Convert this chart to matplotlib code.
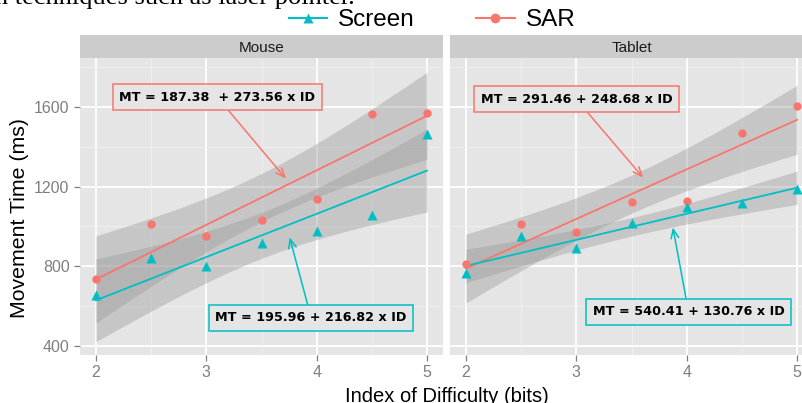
import numpy as np
import matplotlib
matplotlib.use('Agg')
import matplotlib.pyplot as plt
from matplotlib.lines import Line2D

# index of difficulty (bits)
ids = [2, 2.5, 3, 3.5, 4, 4.5, 5]

# movement times (ms)
mouse_screen = [655, 840, 800, 915, 975, 1055, 1465]
mouse_sar = [735, 1010, 950, 1030, 1140, 1565, 1570]
tablet_screen = [765, 950, 890, 1015, 1095, 1120, 1190]
tablet_sar = [810, 1010, 970, 1125, 1130, 1470, 1605]

# fitted models shown in the labels
screen_fit = [(195.96, 216.82), (540.41, 130.76)]
sar_fit = [(187.38, 273.56), (291.46, 248.68)]
screen_eq = ['MT = 195.96 + 216.82 x ID', 'MT = 540.41 + 130.76 x ID']
sar_eq = ['MT = 187.38  + 273.56 x ID', 'MT = 291.46 + 248.68 x ID']

panels = ['Mouse', 'Tablet']
yticks = [400, 800, 1200, 1600]
xticks = [2, 3, 4, 5]

SCREEN = '#00BFC4'
SAR = '#F8766D'
PANEL = '#E5E5E5'
STRIP = '#CCCCCC'

plt.rcParams['font.family'] = ['Liberation Sans', 'DejaVu Sans']


def band(x, y, fit):
	x = np.array(x, dtype=float)
	y = np.array(y, dtype=float)
	a, b = fit
	res = y - (a + b * x)
	s = np.sqrt((res ** 2).sum() / (len(x) - 2))
	sxx = ((x - x.mean()) ** 2).sum()
	xs = np.linspace(x.min(), x.max(), 60)
	se = s * np.sqrt(1.0 / len(x) + (xs - x.mean()) ** 2 / sxx)
	yhat = a + b * xs
	t = 2.571  # t(0.975, df=5)
	return xs, yhat - t * se, yhat + t * se


def draw_panel(ax, sax, name, screen, sar, k, first):
	ax.set_facecolor(PANEL)
	ax.set_xlim(1.855, 5.145)
	ax.set_ylim(355, 1845)
	ax.set_xticks([2.5, 3.5, 4.5], minor=True)
	ax.set_yticks([600, 1000, 1400, 1800], minor=True)
	ax.set_xticks(xticks)
	ax.set_yticks(yticks)
	ax.grid(which='major', color='white', lw=1.3)
	ax.grid(which='minor', color='#F2F2F2', lw=0.6)
	ax.set_axisbelow(True)
	for sp in ax.spines.values():
		sp.set_visible(False)
	ax.tick_params(which='minor', length=0)
	ax.tick_params(which='major', colors='#7F7F7F', labelsize=11.5, length=4, width=0.9)
	if not first:
		ax.tick_params(axis='y', length=0, labelleft=False)

	for y, fit in [(sar, sar_fit[k]), (screen, screen_fit[k])]:
		xs, lo, hi = band(ids, y, fit)
		ax.fill_between(xs, lo, hi, color='#999999', alpha=0.4, lw=0, zorder=2)

	xl = np.array([ids[0], ids[-1]])
	ax.plot(xl, sar_fit[k][0] + sar_fit[k][1] * xl, color=SAR, lw=1.3, zorder=3)
	ax.plot(xl, screen_fit[k][0] + screen_fit[k][1] * xl, color=SCREEN, lw=1.3, zorder=3)
	ax.plot(ids, sar, 'o', color=SAR, ms=6, mec='none', zorder=4)
	ax.plot(ids, screen, '^', color=SCREEN, ms=6.5, mec='none', zorder=4)

	sax.set_facecolor(STRIP)
	sax.set_xticks([])
	sax.set_yticks([])
	for sp in sax.spines.values():
		sp.set_visible(False)
	sax.text(0.5, 0.45, name, ha='center', va='center', fontsize=11, color='#1A1A1A',
		transform=sax.transAxes)


def label(ax, text, xy, xytext, col):
	ax.annotate(text, xy=xy, xytext=xytext, ha='center', va='center',
		fontsize=9.2, fontweight='bold', family='DejaVu Sans', zorder=6,
		bbox=dict(boxstyle='square,pad=0.5', fc=PANEL, ec=col, lw=1.1),
		arrowprops=dict(arrowstyle='->,head_length=0.7,head_width=0.3', color=col, lw=1.1,
			shrinkA=0, shrinkB=0))


def Main():
	fig = plt.figure(figsize=(8.03, 4.03), dpi=100)
	W, H = 803.0, 403.0

	ax1 = fig.add_axes([80 / W, (H - 355) / H, 363 / W, 297 / H])
	s1 = fig.add_axes([80 / W, (H - 58) / H, 363 / W, 23 / H])
	ax2 = fig.add_axes([450 / W, (H - 355) / H, 363 / W, 297 / H])
	s2 = fig.add_axes([450 / W, (H - 58) / H, 363 / W, 23 / H])

	draw_panel(ax1, s1, panels[0], mouse_screen, mouse_sar, 0, True)
	draw_panel(ax2, s2, panels[1], tablet_screen, tablet_sar, 1, False)

	label(ax1, sar_eq[0], (3.72, 1240), (3.1, 1648), SAR)
	label(ax1, screen_eq[0], (3.755, 945), (3.95, 542), SCREEN)
	label(ax2, sar_eq[1], (3.605, 1245), (3.0, 1638), SAR)
	label(ax2, screen_eq[1], (3.875, 995), (4.017, 572), SCREEN)

	fig.text(20 / W, 1 - 218 / H, 'Movement Time (ms)', rotation=90, ha='center', va='center',
		fontsize=15.3)
	fig.text(447 / W, 1 - 396 / H, 'Index of Difficulty (bits)', ha='center', va='center',
		fontsize=14.5)

	# caption from the page, cut off at the top
	fig.text(-5 / W, 1 - 4 / H, 'n techniques such as laser pointer.', ha='left', va='baseline',
		fontsize=19, family='Liberation Serif')

	handles = [Line2D([], [], color=SCREEN, marker='^', ms=7, mec='none', lw=1.5),
		Line2D([], [], color=SAR, marker='o', ms=7, mec='none', lw=1.5)]
	fig.legend(handles, ['Screen', 'SAR'], ncol=2, frameon=False, fontsize=17.5,
		loc='center', bbox_to_anchor=(432 / W, 1 - 20 / H), handlelength=1.6,
		handletextpad=0.45, columnspacing=2.5, borderpad=0)

	fig.savefig('out.png', dpi=100)


Main()
